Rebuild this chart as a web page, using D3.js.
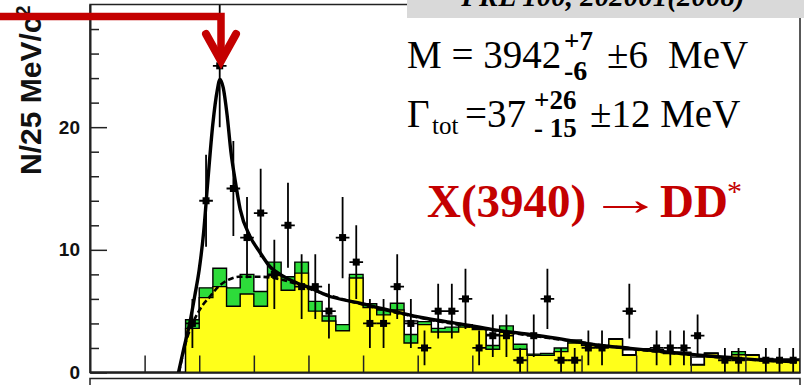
<!DOCTYPE html>
<html>
<head>
<meta charset="utf-8">
<script src="https://d3js.org/d3.v7.min.js"></script>
<style>
  body { margin: 0; background: #fff; }
  svg { display: block; }
</style>
</head>
<body>
<script>
// X(3940) -> D D* recoil mass spectrum, 25 MeV bins from 3700 MeV

var binStart = 3700, binWidth = 25;

// data points (events per bin)
var counts = [0,0,0,0,0,0,0,4,14,25,15,11,13,8,12,7,7,5,11,9,4,4,7,4,2,5,5,6,2,3,3,1,3,6,1,1,2,2,0,5,0,2,2,2,3,0,1,1,0,1,1,1];

// background histograms
var greenHist = [0,0,0,0,0,0,0,4.3,6.9,8.5,6.9,8.0,6.6,9.0,7.8,9.0,5.8,4.6,3.9,8.0,5.6,5.1,5.65,3.1,4.15,3.6,3.7,3.9,3.6,2.2,3.8,2.3,1.5,1.55,2.0,2.65,2.25,2.1,2.75,1.45,1.95,1.85,1.6,1.65,0.65,1.6,1.3,1.7,1.45,1.15,1.1,1.1];
var yellowHist = [0,0,0,0,0,0,0,3.6,6.1,7.0,5.4,6.4,5.4,7.9,6.7,8.1,5.0,4.2,3.4,7.7,5.3,4.7,5.1,2.4,3.9,3.3,3.3,3.7,3.5,1.9,3.3,1.9,1.4,1.4,1.7,2.4,2.2,2.05,2.7,1.4,1.9,1.8,1.55,1.6,0.6,1.55,1.25,1.45,1.4,1.1,1.05,1.05];
var openHist = [0,0,0,0,0,0,0,0,0,0,0,0,0,0,0,0,0,0,0,0,0,0,0,4.2,0,0,0,0,0,3.1,0,0,0,0,0,0,0,0,0,1.85,0,0,0,0,1.25,0,0,0,0,0,0,0];

// fit curves (MeV, events)
var fitMass = [3862,3872,3883,3892,3900,3908,3915,3925,3933,3938,3944,3951,3958,3966,3975,3993,4011,4030,4048,4079,4103,4133,4194,4255,4317,4378,4438,4512,4567,4628,4689,4750,4811,4872,4933,4994];
var fitValue = [0,2,4.1,6.3,8.4,11.4,15.2,20.3,23,23.9,23.2,21,18,15.6,13.3,11.1,9.8,8.6,8.0,7.3,6.9,6.3,5.65,5.0,4.4,3.96,3.5,3.06,2.7,2.24,1.97,1.7,1.43,1.2,1.0,0.88];
var bgMass = [3863,3870,3877,3890,3905,3920,3935,3953,3972,3993,4014,4048,4079,4103,4194,4317,4438,4567,4689,4811,4933,4994];
var bgValue = [0,1.5,2.7,4.2,5.4,6.2,7.0,7.55,7.8,7.8,7.8,7.6,7.2,6.8,5.6,4.35,3.45,2.65,1.93,1.4,0.98,0.86];

var yMajor = [0, 10, 20];
var yMinor = [2,4,6,8,12,14,16,18,22,24,26,28];
var xTicks = [3800,3900,4000,4100,4200,4300,4400,4500,4600,4700,4800,4900];

var W = 804, H = 385;
var svg = d3.select("body").append("svg")
  .attr("width", W).attr("height", H);

var x = d3.scaleLinear().domain([3700, 5000]).range([90, 800]);
var y = d3.scaleLinear().domain([0, 30]).range([372.5, 4.5]);

svg.append("clipPath").attr("id", "plot")
  .append("rect")
  .attr("x", x(3700)).attr("y", y(30))
  .attr("width", x(5000) - x(3700)).attr("height", y(0) - y(30));

var plot = svg.append("g").attr("clip-path", "url(#plot)");

// histogram helper, step shape
function histData(arr) {
  var pts = arr.map(function(v, i) { return { m: binStart + i * binWidth, v: v }; });
  pts.push({ m: binStart + arr.length * binWidth, v: arr[arr.length - 1] });
  return pts;
}
var histArea = d3.area()
  .curve(d3.curveStepAfter)
  .x(function(d) { return x(d.m); })
  .y0(y(0))
  .y1(function(d) { return y(d.v); });

plot.append("path").datum(histData(openHist))
  .attr("d", histArea)
  .attr("fill", "#fff").attr("stroke", "#000").attr("stroke-width", 1.4);

plot.append("path").datum(histData(greenHist))
  .attr("d", histArea)
  .attr("fill", "#2ddc3a").attr("stroke", "#000").attr("stroke-width", 1.4);

plot.append("path").datum(histData(yellowHist))
  .attr("d", histArea)
  .attr("fill", "#ffff1a").attr("stroke", "#000").attr("stroke-width", 1.4);

// curves
var curveLine = d3.line()
  .curve(d3.curveMonotoneX)
  .x(function(d) { return x(d[0]); })
  .y(function(d) { return y(d[1]); });

plot.append("path")
  .datum(d3.zip(bgMass, bgValue))
  .attr("d", curveLine)
  .attr("fill", "none").attr("stroke", "#000")
  .attr("stroke-width", 2.6).attr("stroke-dasharray", "6,3");

plot.append("path")
  .datum(d3.zip(fitMass, fitValue))
  .attr("d", curveLine)
  .attr("fill", "none").attr("stroke", "#000")
  .attr("stroke-width", 3.4);

// data points with error bars
var pts = counts.map(function(n, i) { return { m: binStart + (i + 0.5) * binWidth, n: n }; })
  .filter(function(d) { return d.n > 0; });

var pg = plot.append("g");
pg.selectAll(".ey").data(pts).enter().append("line")
  .attr("x1", function(d) { return x(d.m); })
  .attr("x2", function(d) { return x(d.m); })
  .attr("y1", function(d) { return y(d.n + Math.sqrt(d.n)); })
  .attr("y2", function(d) { return y(Math.max(0, d.n - Math.sqrt(d.n))); })
  .attr("stroke", "#000").attr("stroke-width", 1.8);
pg.selectAll(".ex").data(pts).enter().append("line")
  .attr("x1", function(d) { return x(d.m - binWidth / 2); })
  .attr("x2", function(d) { return x(d.m + binWidth / 2); })
  .attr("y1", function(d) { return y(d.n); })
  .attr("y2", function(d) { return y(d.n); })
  .attr("stroke", "#000").attr("stroke-width", 1.8);
pg.selectAll("rect").data(pts).enter().append("rect")
  .attr("x", function(d) { return x(d.m) - 3.5; })
  .attr("y", function(d) { return y(d.n) - 3.5; })
  .attr("width", 7).attr("height", 7)
  .attr("fill", "#000");

// frame and axes
svg.append("rect")
  .attr("x", x(3700)).attr("y", y(30))
  .attr("width", x(5000) - x(3700)).attr("height", y(0) - y(30))
  .attr("fill", "none").attr("stroke", "#222").attr("stroke-width", 1.5);

var yAxis = svg.append("g")
  .attr("transform", "translate(" + x(3700) + ",0)")
  .call(d3.axisLeft(y).tickValues(yMajor).tickSizeInner(-17).tickSizeOuter(0).tickPadding(10));
svg.append("g")
  .attr("transform", "translate(" + x(3700) + ",0)")
  .call(d3.axisLeft(y).tickValues(yMinor).tickSizeInner(-9).tickSizeOuter(0).tickFormat(""));
var xAxis = svg.append("g")
  .attr("transform", "translate(0," + y(0) + ")")
  .call(d3.axisBottom(x).tickValues(xTicks).tickSizeInner(-17).tickSizeOuter(0).tickFormat(""));

svg.selectAll(".domain").attr("stroke", "#222").attr("stroke-width", 1.6);
svg.selectAll(".tick line").attr("stroke", "#222").attr("stroke-width", 1.5);
yAxis.selectAll("text")
  .style("font-family", "'Liberation Sans', Arial, sans-serif")
  .style("font-weight", "bold")
  .style("font-size", "19px")
  .attr("fill", "#111");

// lower panel edge
svg.append("rect")
  .attr("x", x(3700)).attr("y", 378.5)
  .attr("width", x(5000) - x(3700)).attr("height", 30)
  .attr("fill", "none").attr("stroke", "#222").attr("stroke-width", 1.5);

// y label
svg.append("text")
  .attr("transform", "translate(41,175) rotate(-90)")
  .style("font-family", "'Liberation Sans', Arial, sans-serif")
  .style("font-weight", "bold")
  .style("font-size", "30px")
  .attr("fill", "#111")
  .text("N/25 MeV/c")
  .append("tspan").attr("dy", -11).style("font-size", "20px").text("2");

// reference box
svg.append("rect")
  .attr("x", 407).attr("y", -1).attr("width", 397).attr("height", 19)
  .attr("fill", "#d9d9d9");
svg.append("text")
  .attr("x", 603).attr("y", 6)
  .attr("text-anchor", "middle")
  .style("font-family", "'Liberation Serif', 'Times New Roman', serif")
  .style("font-weight", "bold").style("font-style", "italic")
  .style("font-size", "29px")
  .text("PRL 100, 202001(2008)");

// fit results
var serif = "'Liberation Serif', 'Times New Roman', serif";
function txt(s, px, py, size, weight, color) {
  return svg.append("text")
    .attr("x", px).attr("y", py)
    .style("font-family", serif)
    .style("font-size", size + "px")
    .style("font-weight", weight || "normal")
    .attr("fill", color || "#000")
    .text(s);
}
txt("M = 3942", 407, 68, 39);
txt("+7", 564, 50, 27, "bold");
txt("-6", 564, 80, 28, "bold");
txt("\u00b16", 607, 68, 39);
txt("MeV", 668, 68, 39);

txt("\u0393", 407, 127, 39);
txt("tot", 432, 134, 25);
txt("=37", 465, 127, 39);
txt("+26", 534, 109, 27, "bold");
txt("- 15", 534, 137, 27, "bold");
txt("\u00b112 MeV", 590, 127, 39);

var red = "#c40000";
txt("X(3940)", 427, 217, 47, "bold", red);
txt("\u2192", 0, 0, 47, "normal", red)
  .attr("x", null).attr("y", null)
  .attr("text-anchor", "middle")
  .attr("transform", "translate(625,215) scale(1.6,1)");
txt("DD", 660, 217, 47, "bold", red);
txt("*", 727, 201, 30, "normal", red);

// red arrow pointing at the peak
svg.append("path")
  .attr("d", "M0,16.5 H221 V58")
  .attr("fill", "none").attr("stroke", red)
  .attr("stroke-width", 7.5).attr("stroke-linejoin", "miter");
svg.append("path")
  .attr("d", "M206,34 L221,61 L236,34")
  .attr("fill", "none").attr("stroke", red)
  .attr("stroke-width", 8).attr("stroke-linecap", "round").attr("stroke-linejoin", "miter");
</script>
</body>
</html>
